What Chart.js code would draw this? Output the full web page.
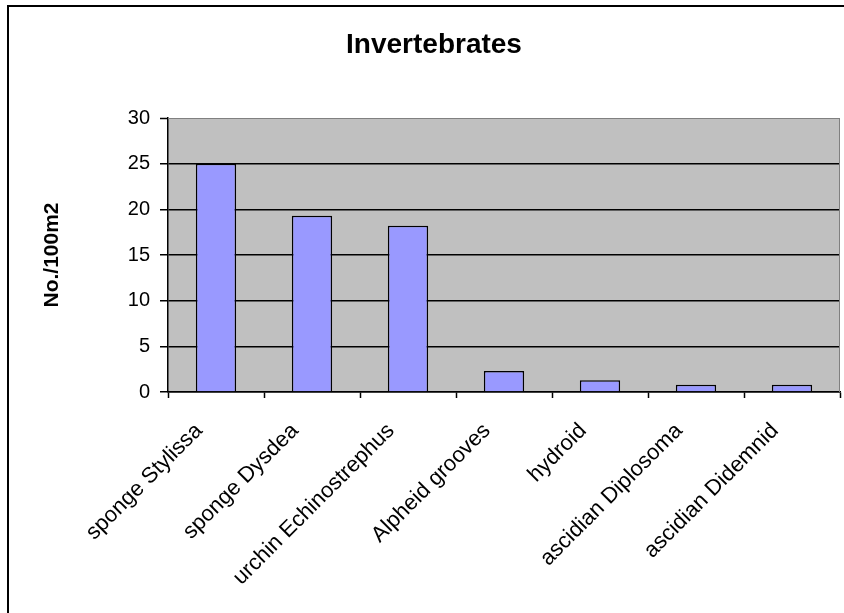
<!DOCTYPE html>
<html>
<head>
<meta charset="utf-8">
<script src="https://cdn.jsdelivr.net/npm/chart.js@4/dist/chart.umd.min.js"></script>
<style>
  html, body { margin: 0; padding: 0; background: #fff; }
  #wrap { width: 844px; height: 613px; position: relative; }
</style>
</head>
<body>
<div id="wrap"><canvas id="invChart" width="844" height="613"></canvas></div>
<script>
// Invertebrate densities (No./100m2)
const categories = ['sponge Stylissa', 'sponge Dysdea', 'urchin Echinostrephus', 'Alpheid grooves',
    'hydroid', 'ascidian Diplosoma', 'ascidian Didemnid'];
const densities = [25, 19.3, 18.2, 2.3, 1.3, 0.8, 0.8];
const yTicks = [0, 5, 10, 15, 20, 25, 30];

const FONT = '"Liberation Sans", Arial, sans-serif';

// Frame, plot background and title
const framePlugin = {
    id: 'frame',
    beforeDraw(chart) {
        const { ctx, chartArea: a } = chart;
        ctx.save();
        ctx.fillStyle = '#fff';
        ctx.fillRect(0, 0, chart.width, chart.height);
        ctx.strokeStyle = '#000';
        ctx.lineWidth = 2;
        ctx.strokeRect(8, 6, chart.width + 10, chart.height + 10);
        ctx.fillStyle = '#c0c0c0';
        ctx.fillRect(a.left, a.top, a.right - a.left, a.bottom - a.top);
        ctx.fillStyle = '#000';
        ctx.font = 'bold 28px ' + FONT;
        ctx.textAlign = 'center';
        ctx.textBaseline = 'alphabetic';
        ctx.fillText('Invertebrates', 434, 53);
        ctx.restore();
    },
    afterDatasetsDraw(chart) {
        const { ctx, chartArea: a } = chart;
        ctx.save();
        ctx.strokeStyle = '#808080';
        ctx.lineWidth = 1;
        ctx.beginPath();
        ctx.moveTo(a.left, a.top + 0.5);
        ctx.lineTo(a.right - 0.5, a.top + 0.5);
        ctx.lineTo(a.right - 0.5, a.bottom);
        ctx.stroke();
        ctx.restore();
    }
};

new Chart(document.getElementById('invChart'), {
    type: 'bar',
    data: {
        labels: categories,
        datasets: [{
            data: densities,
            backgroundColor: '#9999ff',
            borderColor: '#000',
            borderWidth: 1.5,
            barPercentage: 1,
            categoryPercentage: 0.42
        }]
    },
    options: {
        responsive: false,
        animation: false,
        layout: { padding: { top: 118, left: 0, right: 4, bottom: 0 } },
        plugins: {
            legend: { display: false },
            title: { display: false },
            tooltip: { enabled: false }
        },
        scales: {
            x: {
                afterFit: s => { s.height = 221; },
                grid: {
                    offset: true,
                    drawOnChartArea: false,
                    tickLength: 6,
                    tickColor: '#000',
                    tickWidth: 1.5
                },
                border: { color: '#000', width: 1.5 },
                ticks: {
                    color: '#000',
                    font: { family: FONT, size: 22 },
                    minRotation: 45,
                    maxRotation: 45,
                    padding: 20,
                    labelOffset: -17,
                    autoSkip: false
                }
            },
            y: {
                min: 0,
                max: 30,
                afterFit: s => { s.width = 168; },
                afterBuildTicks: s => { s.ticks = yTicks.map(v => ({ value: v })); },
                grid: {
                    color: c => (c.tick && c.tick.value === 30) ? '#808080' : '#000',
                    lineWidth: c => (c.tick && c.tick.value === 30) ? 1 : 1.5,
                    tickLength: 8,
                    tickColor: '#000',
                    tickWidth: 1.5
                },
                border: { color: '#000', width: 1.5 },
                ticks: {
                    color: '#000',
                    font: { family: FONT, size: 20 },
                    padding: 10
                },
                title: {
                    display: true,
                    text: 'No./100m2',
                    color: '#000',
                    font: { family: FONT, size: 21, weight: 'bold' },
                    padding: { top: 40, bottom: 0 }
                }
            }
        }
    },
    plugins: [framePlugin]
});
</script>
</body>
</html>
